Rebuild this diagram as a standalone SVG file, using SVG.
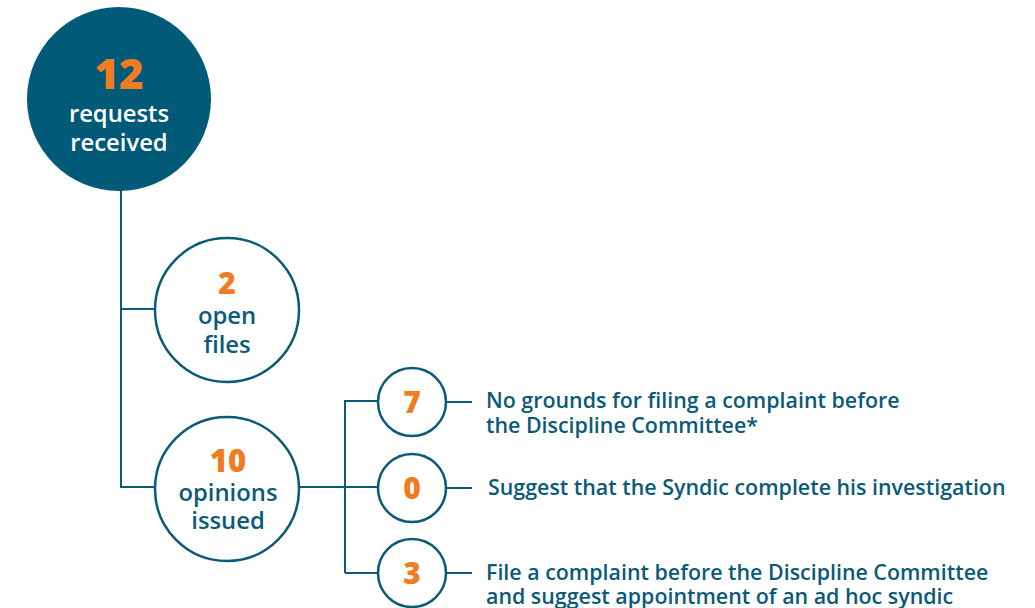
<svg xmlns="http://www.w3.org/2000/svg" width="1035" height="608" viewBox="0 0 1035 608">
<style>
.ring{fill:#ffffff;stroke:#0b5a77;stroke-width:2.5}
.line{fill:none;stroke:#0b5a77;stroke-width:2}
.num{font-family:"Open Sans","Liberation Sans",sans-serif;font-weight:800;fill:#f07c22;text-anchor:middle}
.lbl{font-family:"Open Sans","Liberation Sans",sans-serif;font-weight:600;fill:#0b5a77;text-anchor:middle;font-size:23.8px}
.wht{fill:#ffffff}
.desc{font-family:"Open Sans","Liberation Sans",sans-serif;font-weight:600;fill:#0b5a77;font-size:21.4px}
</style>
<rect width="1035" height="608" fill="#ffffff"/>
<g id="connectors">
<path class="line" d="M121 190 V487 H154"/>
<path class="line" d="M121 309 H154"/>
<path class="line" d="M300 487 H378"/>
<path class="line" d="M345 573 V401 H378"/>
<path class="line" d="M345 573 H378"/>
<path class="line" d="M446 402 H472"/>
<path class="line" d="M446 488 H472"/>
<path class="line" d="M446 573 H472"/>
</g>
<g id="requests">
<circle cx="119" cy="99" r="92" fill="#005a78"/>
<text class="num" x="119" y="89" font-size="42">12</text>
<text class="lbl wht" x="119" y="122" style="fill:#ffffff">requests</text>
<text class="lbl wht" x="119" y="151" style="fill:#ffffff">received</text>
</g>
<g id="open">
<circle class="ring" cx="227" cy="310" r="72"/>
<text class="num" x="227" y="294" font-size="30">2</text>
<text class="lbl" x="227" y="324">open</text>
<text class="lbl" x="227" y="353">files</text>
</g>
<g id="opinions">
<circle class="ring" cx="227" cy="489" r="72"/>
<text class="num" x="228" y="472" font-size="31">10</text>
<text class="lbl" x="228" y="501">opinions</text>
<text class="lbl" x="228" y="529">issued</text>
</g>
<g id="n7">
<circle class="ring" cx="412" cy="402" r="34"/>
<text class="num" x="412" y="413" font-size="30">7</text>
<text class="desc" x="486" y="408">No grounds for filing a complaint before</text>
<text class="desc" x="486" y="433">the Discipline Committee*</text>
</g>
<g id="n0">
<circle class="ring" cx="412" cy="488" r="34"/>
<text class="num" x="412" y="499" font-size="30">0</text>
<text class="desc" x="488" y="495">Suggest that the Syndic complete his investigation</text>
</g>
<g id="n3">
<circle class="ring" cx="412" cy="573" r="34"/>
<text class="num" x="412" y="584" font-size="30">3</text>
<text class="desc" x="486" y="580">File a complaint before the Discipline Committee</text>
<text class="desc" x="486" y="604">and suggest appointment of an ad hoc syndic</text>
</g>
</svg>
